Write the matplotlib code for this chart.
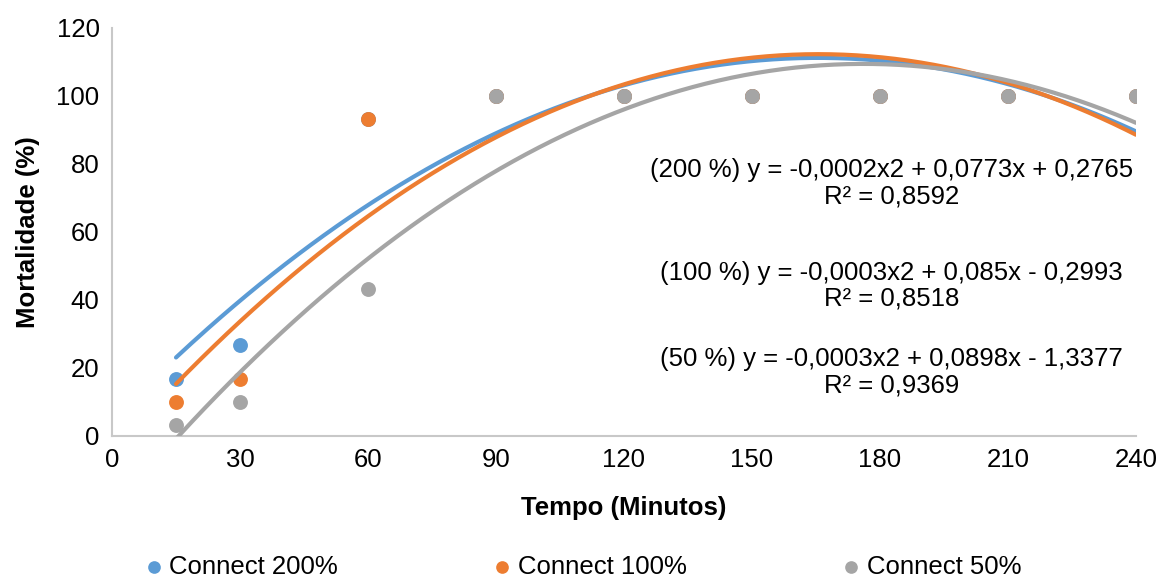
import numpy as np
import matplotlib.pyplot as plt

plt.rcParams['font.family'] = ['Liberation Sans', 'DejaVu Sans']

tempo = [15, 30, 60, 90, 120, 150, 180, 210, 240]
mort_200 = [16.7, 26.7, 93.3, 100, 100, 100, 100, 100, 100]
mort_100 = [10.0, 16.7, 93.3, 100, 100, 100, 100, 100, 100]
mort_50 = [3.3, 10.0, 43.3, 100, 100, 100, 100, 100, 100]

labels = ['Connect 200%', 'Connect 100%', 'Connect 50%']
colors = ['#5b9bd5', '#ed7d31', '#a5a5a5']
equations = ['(200 %) y = -0,0002x2 + 0,0773x + 0,2765\nR² = 0,8592',
             '(100 %) y = -0,0003x2 + 0,085x - 0,2993\nR² = 0,8518',
             '(50 %) y = -0,0003x2 + 0,0898x - 1,3377\nR² = 0,9369']

fig = plt.figure(figsize=(11.62, 5.77), dpi=100)
ax = fig.add_axes([0.0964, 0.2444, 0.8812, 0.7071])

series = [mort_200, mort_100, mort_50]
xs = np.linspace(min(tempo), max(tempo), 300)
for ys, col, lab in zip(series, colors, labels):
    ax.scatter(tempo, ys, s=115, color=col, label=lab, zorder=3, linewidths=0)
# polynomial (order 2) trendlines, like Excel
for ys, col in zip(series, colors):
    coef = np.polyfit(tempo, ys, 2)
    ax.plot(xs, np.polyval(coef, xs), color=col, lw=3, zorder=4, solid_capstyle='round')

eq_pos = [(0.761, 0.619), (0.761, 0.368), (0.761, 0.156)]
for eq, (px, py) in zip(equations, eq_pos):
    ax.text(px, py, eq, transform=ax.transAxes, ha='center', va='center',
            fontsize=18.5, linespacing=1.1)

ax.set_xlim(0, 240)
ax.set_ylim(0, 120)
ax.set_xticks(range(0, 241, 30))
ax.set_yticks(range(0, 121, 20))
ax.tick_params(labelsize=18.5, length=0, pad=9)
for s in ['top', 'right']:
    ax.spines[s].set_visible(False)
for s in ['left', 'bottom']:
    ax.spines[s].set_color('#c8c8c8')
    ax.spines[s].set_linewidth(1.5)
ax.set_xlabel('Tempo (Minutos)', fontsize=18.5, fontweight='bold', labelpad=17)
ax.set_ylabel('Mortalidade (%)', fontsize=18.5, fontweight='bold', labelpad=12)

fig.legend(*ax.get_legend_handles_labels(), loc='center', bbox_to_anchor=(0.5, 0.018),
           ncol=3, frameon=False, fontsize=18.5, handletextpad=0.1, columnspacing=5.9,
           handlelength=1.0, markerscale=0.85, borderpad=0)

fig.savefig('out.png', dpi=100)
